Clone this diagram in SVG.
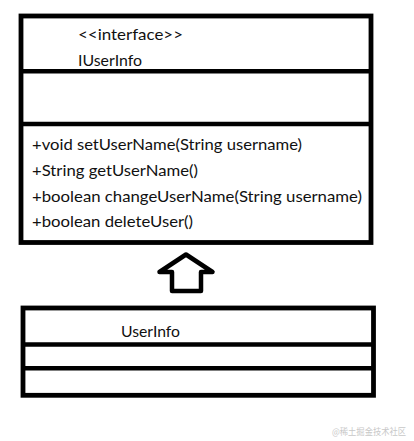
<svg xmlns="http://www.w3.org/2000/svg" width="414" height="441" viewBox="0 0 414 441">
<style>
.box{fill:#fff;stroke:#000;stroke-width:4.8}
.div{stroke:#000;stroke-width:4.5}
.t{font-family:Lato,"Noto Sans",sans-serif;font-size:16px;fill:#111}
.wm{font-family:"Noto Sans CJK SC",sans-serif;font-size:9px;fill:#c8c8c8}
</style>
<rect width="414" height="441" fill="#fff"/>
<g id="IUserInfo">
<rect class="box" x="21" y="16" width="350" height="226.5"/>
<line class="div" x1="21" y1="71.3" x2="371" y2="71.3"/>
<line class="div" x1="21" y1="124" x2="371" y2="124"/>
<text class="t" x="78" y="40" textLength="105" lengthAdjust="spacingAndGlyphs">&lt;&lt;interface&gt;&gt;</text>
<text class="t" x="78" y="66" textLength="64" lengthAdjust="spacingAndGlyphs">IUserInfo</text>
<text class="t" x="32" y="150" textLength="270" lengthAdjust="spacingAndGlyphs">+void setUserName(String username)</text>
<text class="t" x="32" y="176" textLength="166" lengthAdjust="spacingAndGlyphs">+String getUserName()</text>
<text class="t" x="32" y="202" textLength="330" lengthAdjust="spacingAndGlyphs">+boolean changeUserName(String username)</text>
<text class="t" x="32" y="227" textLength="161" lengthAdjust="spacingAndGlyphs">+boolean deleteUser()</text>
</g>
<g id="connectors">
<polygon points="186,254.5 212.5,272 201,272 201,291 172,291 172,272 159.5,272" fill="#fff" stroke="#000" stroke-width="4.5" stroke-linejoin="round"/>
</g>
<g id="UserInfo">
<rect class="box" x="23" y="308" width="350.5" height="87.3"/>
<line class="div" x1="23" y1="344.5" x2="373.5" y2="344.5"/>
<line class="div" x1="23" y1="368.3" x2="373.5" y2="368.3"/>
<text class="t" x="121" y="337" textLength="59" lengthAdjust="spacingAndGlyphs">UserInfo</text>
</g>
<text class="wm" x="332" y="434.5" textLength="74" lengthAdjust="spacingAndGlyphs">@稀土掘金技术社区</text>
</svg>
